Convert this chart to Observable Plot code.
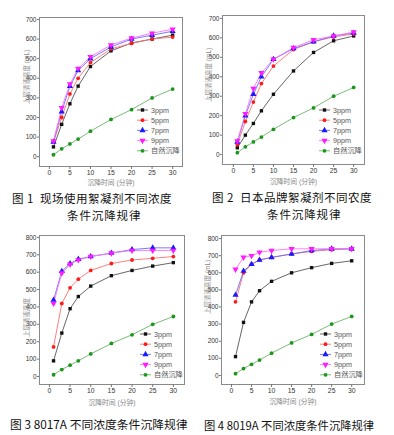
<!DOCTYPE html>
<html><head><meta charset="utf-8">
<script src="https://cdn.jsdelivr.net/npm/d3@7"></script>
<script src="https://cdn.jsdelivr.net/npm/@observablehq/plot@0.6"></script>
<style>
body{margin:0;background:#fff;}
#root{position:relative;width:394px;height:435px;overflow:hidden;font-family:"Noto Sans CJK SC","Noto Sans",sans-serif;}
.panel{position:absolute;}
.cap{position:absolute;color:#111;white-space:pre;line-height:14px;}
.leg{position:absolute;}
</style></head><body><div id="root"></div>
<script>
// ---- data ----
const times = [1, 3, 5, 7, 10, 15, 20, 25, 30];
const seriesNames = ["3ppm", "5ppm", "7ppm", "9ppm", "自然沉降"];
const xTicks = [0, 5, 10, 15, 20, 25, 30];
const yTicks700 = [0, 100, 200, 300, 400, 500, 600, 700];
const yTicks800 = [0, 100, 200, 300, 400, 500, 600, 700, 800];
const xTitle = "沉降时间 (分钟)";
const yTitle = "上层清液高度 (mL)";
const yTitleShort = "上层清液高度";

const natural = [10, 40, 65, 90, 130, 190, 240, 300, 345];

const fig1_3ppm = [50, 165, 270, 360, 460, 540, 580, 600, 620];
const fig1_5ppm = [75, 200, 320, 400, 480, 550, 578, 600, 610];
const fig1_7ppm = [75, 230, 360, 440, 500, 560, 600, 620, 640];
const fig1_9ppm = [80, 250, 370, 450, 510, 570, 605, 630, 650];

const fig2_3ppm = [35, 100, 160, 225, 310, 430, 525, 585, 610];
const fig2_5ppm = [50, 170, 270, 365, 455, 540, 580, 605, 620];
const fig2_7ppm = [65, 200, 310, 400, 490, 545, 580, 610, 625];
const fig2_9ppm = [70, 210, 340, 420, 490, 550, 590, 610, 630];

const fig3_3ppm = [90, 250, 390, 460, 520, 580, 610, 635, 655];
const fig3_5ppm = [170, 420, 510, 560, 610, 650, 670, 680, 690];
const fig3_7ppm = [440, 605, 650, 675, 690, 710, 730, 740, 740];
const fig3_9ppm = [420, 595, 645, 670, 690, 710, 725, 725, 725];

const fig4_3ppm = [110, 310, 430, 495, 550, 600, 630, 655, 670];
const fig4_5ppm = [430, 600, 650, 675, 690, 710, 725, 735, 740];
const fig4_7ppm = [470, 610, 650, 675, 690, 710, 730, 740, 740];
const fig4_9ppm = [620, 690, 700, 720, 730, 740, 740, 740, 740];

const captionLines = [
  ["图 1  现场使用絮凝剂不同浓度", "条件沉降规律"],
  ["图 2  日本品牌絮凝剂不同农度", "条件沉降规律"],
  ["图 3 8017A 不同浓度条件沉降规律"],
  ["图 4 8019A 不同浓度条件沉降规律"]
];

// ---- styles ----
const dotColors = ["#111111", "#ff1a1a", "#1a1aff", "#ff1aff", "#1a961a"];
const lineColors = ["#555555", "#ff7070", "#6a6aff", "#ff70ff", "#6ab46a"];
const downTriangle = {
  draw(ctx, size) {
    const y = Math.sqrt(size / (Math.sqrt(3) * 3));
    ctx.moveTo(0, 2 * y);
    ctx.lineTo(-Math.sqrt(3) * y, -y);
    ctx.lineTo(Math.sqrt(3) * y, -y);
    ctx.closePath();
  }
};
const symbols = ["square", "circle", "triangle", downTriangle, "circle"];
const latin = "Arial, 'Liberation Sans', 'Noto Sans CJK SC', sans-serif";

const root = document.getElementById("root");

const panels = [
  {data:[fig1_3ppm,fig1_5ppm,fig1_7ppm,fig1_9ppm,natural], left:0, top:0, w:194, h:190,
   ml:39, mr:12, mt:17, mb:24, yd:[-50,710], yt:yTicks700, xd:[-2.4,32.4], ylab:yTitle, ydy:12, ydx:-13, xdy:18,
   leg:{x:136, y:104},
   cap:[{x:12, y:191, fs:11.5, ls:0.5}, {x:67, y:208, fs:11.5, ls:0.9}]},
  {data:[fig2_3ppm,fig2_5ppm,fig2_7ppm,fig2_9ppm,natural], left:194, top:0, w:194, h:190,
   ml:28, mr:24, mt:15, mb:26, yd:[-51,715], yt:yTicks700, xd:[-2.7,32.7], ylab:yTitle, ydy:12, ydx:-14, xdy:19,
   leg:{x:318, y:104},
   cap:[{x:212, y:190, fs:11.5, ls:0.5}, {x:267, y:207, fs:11.5, ls:0.9}]},
  {data:[fig3_3ppm,fig3_5ppm,fig3_7ppm,fig3_9ppm,natural], left:0, top:220, w:194, h:190,
   ml:39, mr:10, mt:15, mb:26, yd:[-46,811], yt:yTicks800, xd:[-2.4,32.7], ylab:yTitleShort, ydy:27, ydx:-13, xdy:20,
   leg:{x:139, y:328},
   cap:[{x:10, y:417, fs:11.8, ls:0}]},
  {data:[fig4_3ppm,fig4_5ppm,fig4_7ppm,fig4_9ppm,natural], left:194, top:220, w:194, h:190,
   ml:27, mr:24, mt:15, mb:26, yd:[-53,818], yt:yTicks800, xd:[-2.5,33.2], ylab:yTitle, ydy:4, ydx:-14, xdy:19,
   leg:{x:319, y:328},
   cap:[{x:204, y:418, fs:11.3, ls:0}]}
];

panels.forEach((p, pi) => {
  const marks = [
    Plot.frame({stroke: "#8a8a8a", strokeWidth: 1}),
    Plot.axisX({ticks: xTicks, tickSize: 3, tickPadding: 1, label: null, stroke: "#777", fill: "#333", fontSize: 6.8}),
    Plot.axisY({ticks: p.yt, tickSize: 2, tickPadding: 1, label: null, stroke: "#777", fill: "#333", fontSize: 6.5})
  ];
  p.data.forEach((vals, si) => {
    const rows = vals.map((v, i) => ({t: times[i], v}));
    marks.push(Plot.line(rows, {x: "t", y: "v", stroke: lineColors[si], strokeWidth: 0.9}));
  });
  p.data.forEach((vals, si) => {
    const rows = vals.map((v, i) => ({t: times[i], v}));
    marks.push(Plot.dot(rows, {x: "t", y: "v", symbol: symbols[si], fill: dotColors[si], stroke: "none", r: si === 2 || si === 3 ? 2.3 : 1.9}));
  });
  marks.push(Plot.text([xTitle], {frameAnchor: "bottom", dy: p.xdy, fontSize: 6.8, fill: "#888"}));
  marks.push(Plot.text([p.ylab], {frameAnchor: "left", rotate: -90, dx: p.ydx, dy: p.ydy, fontSize: 6.5, fill: "#888"}));

  const svg = Plot.plot({
    width: p.w, height: p.h,
    marginLeft: p.ml, marginRight: p.mr, marginTop: p.mt, marginBottom: p.mb,
    style: {fontFamily: latin, fontSize: "7px", color: "#333", background: "transparent"},
    x: {domain: p.xd},
    y: {domain: p.yd},
    marks
  });
  const div = document.createElement("div");
  div.className = "panel";
  div.style.left = p.left + "px";
  div.style.top = p.top + "px";
  div.appendChild(svg);
  root.appendChild(div);

  // legend
  const leg = d3.select(root).append("svg").attr("class", "leg")
    .style("left", p.leg.x + "px").style("top", p.leg.y + "px")
    .attr("width", 56).attr("height", 54);
  seriesNames.forEach((name, si) => {
    const cy = 6 + si * 10.2;
    leg.append("line").attr("x1", 1).attr("x2", 12).attr("y1", cy).attr("y2", cy)
      .attr("stroke", lineColors[si]).attr("stroke-width", 0.9);
    const sym = typeof symbols[si] === "string"
      ? (symbols[si] === "square" ? d3.symbolSquare : symbols[si] === "triangle" ? d3.symbolTriangle : d3.symbolCircle)
      : symbols[si];
    const r = si === 2 || si === 3 ? 2.3 : 1.9;
    leg.append("path").attr("d", d3.symbol(sym, Math.PI * r * r)())
      .attr("transform", `translate(6.5,${cy})`).attr("fill", dotColors[si]);
    leg.append("text").attr("x", 15).attr("y", cy).attr("dy", "0.35em")
      .attr("font-size", 7.2).attr("fill", "#555")
      .attr("font-family", latin)
      .text(name);
  });

  // caption
  captionLines[pi].forEach((line, li) => {
    const c = p.cap[li];
    const cap = document.createElement("div");
    cap.className = "cap";
    cap.style.left = c.x + "px";
    cap.style.top = c.y + "px";
    cap.style.fontSize = c.fs + "px";
    cap.style.letterSpacing = c.ls + "px";
    cap.textContent = line;
    root.appendChild(cap);
  });
});
</script>
</body></html>
